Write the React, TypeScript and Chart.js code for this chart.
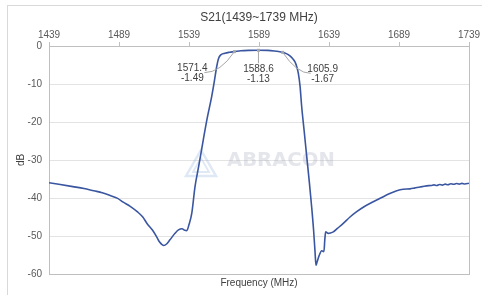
import { useEffect, useRef } from "react";
import { Chart, registerables } from "chart.js";
Chart.register(...registerables);

const freqMHz = [
  1439, 1446, 1456, 1464, 1471, 1477, 1483, 1488, 1492, 1497, 1502, 1506, 1509, 1513, 1516, 1518, 1521, 1523,
  1525.4, 1529, 1531.5, 1534, 1536, 1537.4, 1539, 1541, 1543.3, 1546, 1549.2, 1552, 1555.2, 1557, 1558.8, 1560,
  1561.5, 1564.7, 1568, 1571.4, 1576, 1582, 1588.6, 1595, 1600, 1603, 1605.9, 1608.5, 1611.1, 1613, 1614.7, 1616,
  1617.1, 1618.3, 1619.5, 1621.3, 1623.1, 1625, 1626.6, 1628, 1629, 1629.7, 1630.5, 1632.1, 1633.8, 1635.4, 1636,
  1636.6, 1638.5, 1640, 1642.1, 1645, 1649.2, 1654, 1658.8, 1664, 1670.6, 1677, 1682, 1687.4, 1692, 1696.9, 1700,
  1704, 1708.8, 1712, 1714, 1716, 1718, 1720, 1722, 1724, 1726, 1728, 1730, 1732, 1734, 1736, 1739,
];
const s21dB = [
  -36.0, -36.4, -37.0, -37.5, -38.1, -38.6, -39.4, -40.1, -41.1, -42.2, -43.6, -45.0, -46.7, -48.5, -50.3, -51.6, -52.5, -52.1,
  -51.0, -49.3, -48.4, -48.1, -48.5, -48.6, -47.0, -44.0, -37.0, -31.5, -24.7, -19.0, -13.3, -9.5, -5.4, -3.4,
  -2.4, -1.9, -1.65, -1.49, -1.25, -1.15, -1.13, -1.16, -1.3, -1.45, -1.67, -2.0, -2.6, -3.3, -4.2, -5.5,
  -7.2, -10.5, -16.0, -22.5, -29.1, -36.0, -42.3, -48.5, -54.0, -57.7, -56.8, -55.0, -53.9, -54.1, -51.0,
  -48.9, -49.3, -49.2, -48.9, -48.0, -46.7, -45.0, -43.6, -42.3, -41.0, -39.8, -38.9, -38.1, -37.7, -37.6, -37.4,
  -37.1, -36.8, -36.7, -36.55, -36.7, -36.45, -36.6, -36.35, -36.5, -36.25, -36.4, -36.2, -36.35, -36.15, -36.3, -36.1,
];
const xTickValues = [1439, 1489, 1539, 1589, 1639, 1689, 1739];
const yTickValues = [0, -10, -20, -30, -40, -50, -60];
const markerFreq = [1571.4, 1588.6, 1605.9];
const markerDb = [-1.49, -1.13, -1.67];
const chartTitle = "S21(1439~1739 MHz)";
const xAxisTitle = "Frequency (MHz)";
const yAxisTitle = "dB";
const watermarkText = "ABRACON";

const FONT = "'Liberation Sans', Arial, sans-serif";
const LABEL_COLOR = "#595959";

export default function App() {
  const ref = useRef<HTMLCanvasElement | null>(null);

  useEffect(() => {
    if (!ref.current) return;

    const decor = {
      id: "decor",
      beforeDatasetsDraw(chart: any) {
        const { ctx, chartArea: a } = chart;
        ctx.save();
        // watermark logo
        ctx.strokeStyle = "rgba(110,150,210,0.22)";
        ctx.lineWidth = 2.5;
        ctx.beginPath();
        ctx.moveTo(186, 176);
        ctx.lineTo(201, 150);
        ctx.lineTo(216, 176);
        ctx.closePath();
        ctx.stroke();
        ctx.lineWidth = 1.8;
        ctx.beginPath();
        ctx.moveTo(193, 172);
        ctx.lineTo(201, 158);
        ctx.lineTo(209, 172);
        ctx.closePath();
        ctx.stroke();
        ctx.fillStyle = "rgba(150,160,180,0.26)";
        ctx.font = `bold 19px 'DejaVu Sans', sans-serif`;
        const w = ctx.measureText(watermarkText).width;
        const size = 19 * (108 / w);
        ctx.font = `bold ${size.toFixed(1)}px 'DejaVu Sans', sans-serif`;
        ctx.textAlign = "left";
        ctx.textBaseline = "middle";
        ctx.fillText(watermarkText, 227, 161);
        // frame
        ctx.strokeStyle = "#bfbfbf";
        ctx.lineWidth = 1;
        ctx.strokeRect(
          Math.round(a.left) + 0.5,
          Math.round(a.top) + 0.5,
          Math.round(a.right - a.left),
          Math.round(a.bottom - a.top)
        );
        ctx.restore();
      },
      afterDatasetsDraw(chart: any) {
        const { ctx, chartArea: a, scales } = chart;
        ctx.save();
        // title
        ctx.fillStyle = "#404040";
        ctx.font = `12px ${FONT}`;
        ctx.textAlign = "center";
        ctx.textBaseline = "middle";
        ctx.fillText(chartTitle, (a.left + a.right) / 2, 18);
        // markers
        const offs = [
          [-42, 17],
          [0, 19],
          [40, 17],
        ];
        markerFreq.forEach((f, i) => {
          const px = scales.x.getPixelForValue(f);
          const py = scales.y.getPixelForValue(markerDb[i]);
          const lx = px + offs[i][0];
          const ly = py + offs[i][1];
          ctx.strokeStyle = "#a6a6a6";
          ctx.lineWidth = 1;
          ctx.beginPath();
          if (i === 1) {
            ctx.moveTo(px, py);
            ctx.lineTo(px, ly - 6);
          } else {
            const sx = lx + (i === 0 ? 12 : -12);
            const sy = ly + 4;
            ctx.moveTo(sx, sy);
            ctx.quadraticCurveTo(px + (i === 0 ? -14 : 14), sy, px, py);
          }
          ctx.stroke();
          ctx.fillStyle = "#a6a6a6";
          ctx.fillRect(px - 1.5, py - 1.5, 3, 3);
          ctx.fillStyle = "#404040";
          ctx.font = `10px ${FONT}`;
          ctx.textAlign = "center";
          ctx.textBaseline = "middle";
          ctx.fillText(f.toFixed(1), lx, ly);
          ctx.fillText(markerDb[i].toFixed(2), lx, ly + 10);
        });
        ctx.restore();
      },
    };

    const chart = new Chart(ref.current, {
      type: "line",
      data: {
        datasets: [
          {
            data: freqMHz.map((f, i) => ({ x: f, y: s21dB[i] })),
            borderColor: "#3a56a0",
            borderWidth: 1.6,
            pointRadius: 0,
            cubicInterpolationMode: "monotone",
            xAxisID: "x",
            yAxisID: "y",
          },
        ],
      },
      options: {
        animation: false,
        responsive: false,
        devicePixelRatio: 1,
        layout: { padding: { top: 30, right: 13, bottom: 0, left: 0 } },
        plugins: {
          legend: { display: false },
          tooltip: { enabled: false },
          title: { display: false },
        },
        scales: {
          x: {
            type: "linear",
            position: "top",
            min: 1439,
            max: 1739,
            afterBuildTicks: (s: any) => {
              s.ticks = xTickValues.map((v) => ({ value: v }));
            },
            afterFit: (s: any) => {
              s.height = 16;
            },
            ticks: {
              autoSkip: false,
              maxRotation: 0,
              padding: 1,
              color: LABEL_COLOR,
              font: { family: FONT, size: 10 },
              callback: (v: any) => String(v),
            },
            grid: { drawOnChartArea: false, drawTicks: true, tickLength: 4, color: "#bfbfbf" },
            border: { display: false },
          },
          x2: {
            type: "linear",
            position: "bottom",
            afterFit: (s: any) => {
              s.height = 21;
            },
            ticks: { display: false },
            grid: { display: false },
            border: { display: false },
            title: {
              display: true,
              text: xAxisTitle,
              color: "#404040",
              font: { family: FONT, size: 10 },
              padding: { top: 0, bottom: 6 },
            },
          },
          y: {
            type: "linear",
            min: -60,
            max: 0,
            afterBuildTicks: (s: any) => {
              s.ticks = yTickValues.map((v) => ({ value: v }));
            },
            afterFit: (s: any) => {
              s.width = 49;
            },
            ticks: {
              padding: 7,
              color: LABEL_COLOR,
              font: { family: FONT, size: 10 },
              callback: (v: any) => String(v),
            },
            grid: { color: "#e3e3e3", drawTicks: false },
            border: { display: false },
            title: {
              display: true,
              text: yAxisTitle,
              color: "#404040",
              font: { family: FONT, size: 10 },
              padding: { top: 15, bottom: 0 },
            },
          },
        },
      },
      plugins: [decor],
    } as any);

    return () => chart.destroy();
  }, []);

  return (
    <div
      style={{
        position: "fixed",
        left: 0,
        top: 0,
        width: 482,
        height: 295,
        overflow: "hidden",
        background: "#fff",
      }}
    >
      <div
        style={{
          position: "absolute",
          left: 7,
          top: 5,
          width: 490,
          height: 300,
          border: "1px solid #d9d9d9",
        }}
      />
      <canvas ref={ref} width={482} height={295} style={{ position: "absolute", left: 0, top: 0 }} />
    </div>
  );
}
